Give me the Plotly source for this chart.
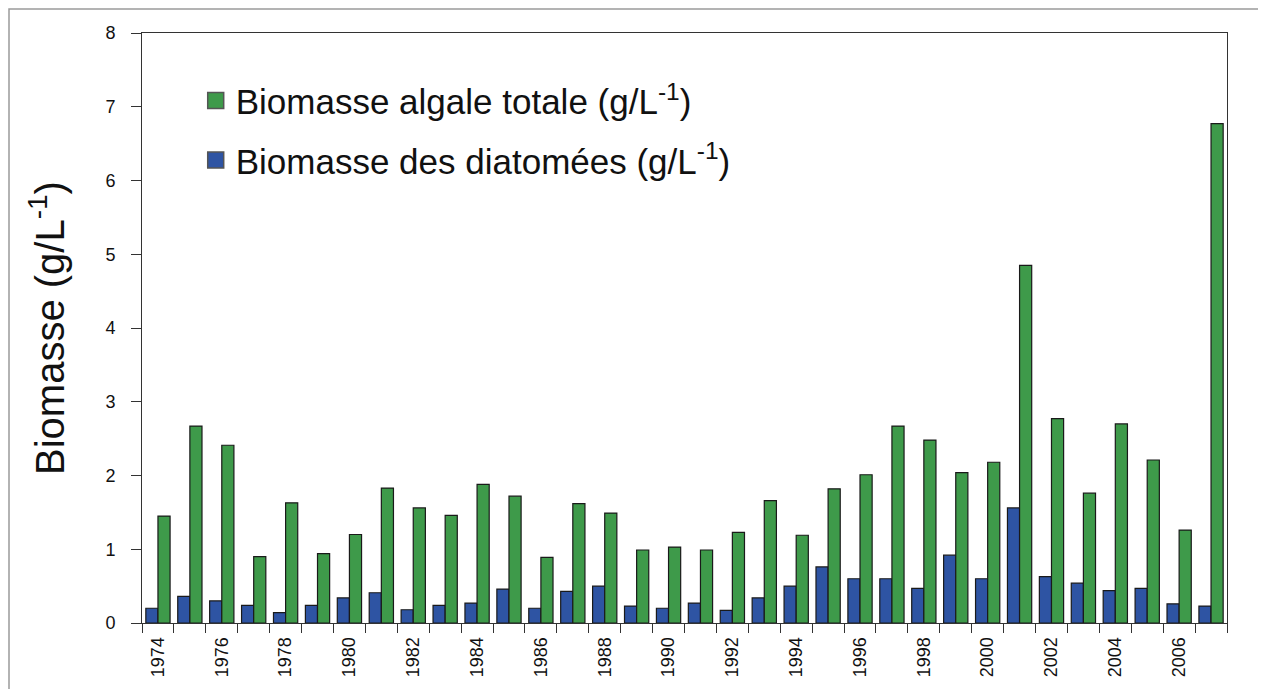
import plotly.graph_objects as go

years = list(range(1974, 2008))
total_biomass = [1.45, 2.67, 2.41, 0.90, 1.63, 0.94, 1.20, 1.83, 1.56, 1.46,
                 1.88, 1.72, 0.89, 1.62, 1.49, 0.99, 1.03, 0.99, 1.23, 1.66,
                 1.19, 1.82, 2.01, 2.67, 2.48, 2.04, 2.18, 4.85, 2.77, 1.76,
                 2.70, 2.21, 1.26, 6.77]
diatom_biomass = [0.20, 0.36, 0.30, 0.24, 0.14, 0.24, 0.34, 0.41, 0.18, 0.24,
                  0.27, 0.46, 0.20, 0.43, 0.50, 0.23, 0.20, 0.27, 0.17, 0.34,
                  0.50, 0.76, 0.60, 0.60, 0.47, 0.92, 0.60, 1.56, 0.63, 0.54,
                  0.44, 0.47, 0.26, 0.23]
tick_years = list(range(1974, 2007, 2))

name_total = "Biomasse algale totale (g/L<sup>-1</sup>)"
name_diatom = "Biomasse des diatomées (g/L<sup>-1</sup>)"

FONT = "Arial, Liberation Sans, sans-serif"
GREEN = "#3e9a4a"
BLUE = "#2e54a3"
EDGE = "#1a1a1a"

fig = go.Figure()
fig.add_trace(go.Bar(x=years, y=diatom_biomass, name=name_diatom,
                     marker=dict(color=BLUE, line=dict(color=EDGE, width=1.2)),
                     showlegend=False))
fig.add_trace(go.Bar(x=years, y=total_biomass, name=name_total,
                     marker=dict(color=GREEN, line=dict(color=EDGE, width=1.2)),
                     showlegend=False))
# legend entries with larger square swatches
fig.add_trace(go.Scatter(x=[None], y=[None], mode="markers", name=name_total,
                         marker=dict(symbol="square", size=20, color=GREEN,
                                     line=dict(color="#555555", width=1.5)),
                         legendgroup="a", legendrank=1))
fig.add_trace(go.Scatter(x=[None], y=[None], mode="markers", name=name_diatom,
                         marker=dict(symbol="square", size=20, color=BLUE,
                                     line=dict(color="#555555", width=1.5)),
                         legendgroup="b", legendrank=2))

fig.update_layout(
    width=1250, height=681,
    margin=dict(l=134, r=31, t=25, b=66),
    paper_bgcolor="white", plot_bgcolor="white",
    barmode="group", bargap=0.24, bargroupgap=0.0,
    font=dict(family=FONT, color="#111111"),
    showlegend=True,
    legend=dict(x=0.0495, y=0.935, xanchor="left", yanchor="top",
                traceorder="grouped", tracegroupgap=11,
                font=dict(size=35, family=FONT, color="#111111"),
                bgcolor="rgba(0,0,0,0)"),
    xaxis=dict(range=[1973.5, 2007.5], tickmode="array", tickvals=tick_years,
               ticktext=[str(y) for y in tick_years], tickangle=-90,
               ticks="", tickfont=dict(size=18, family=FONT),
               ticklabelstandoff=6,
               showline=True, linecolor="#333333", linewidth=1, mirror=True,
               showgrid=False, zeroline=False,
               minor=dict(tick0=1973.5, dtick=1, ticks="outside", ticklen=9,
                          tickcolor="#333333", tickwidth=1, showgrid=False)),
    yaxis=dict(range=[0, 8], dtick=1, ticks="outside", ticklen=10,
               tickcolor="#333333", tickfont=dict(size=18, family=FONT),
               ticklabelstandoff=12,
               showline=True, linecolor="#333333", linewidth=1, mirror=True,
               showgrid=False, zeroline=False,
               title=dict(text="Biomasse (g/L<sup>-1</sup>)",
                          font=dict(size=40, family=FONT), standoff=28)),
)

fig.add_shape(type="rect", xref="paper", yref="paper",
              x0=-133/1085, x1=1+40/1085, y0=-80/590, y1=1+24/590,
              line=dict(color="#9a9a9a", width=1.5), fillcolor="rgba(0,0,0,0)",
              layer="below")

fig.write_html("out.html")
